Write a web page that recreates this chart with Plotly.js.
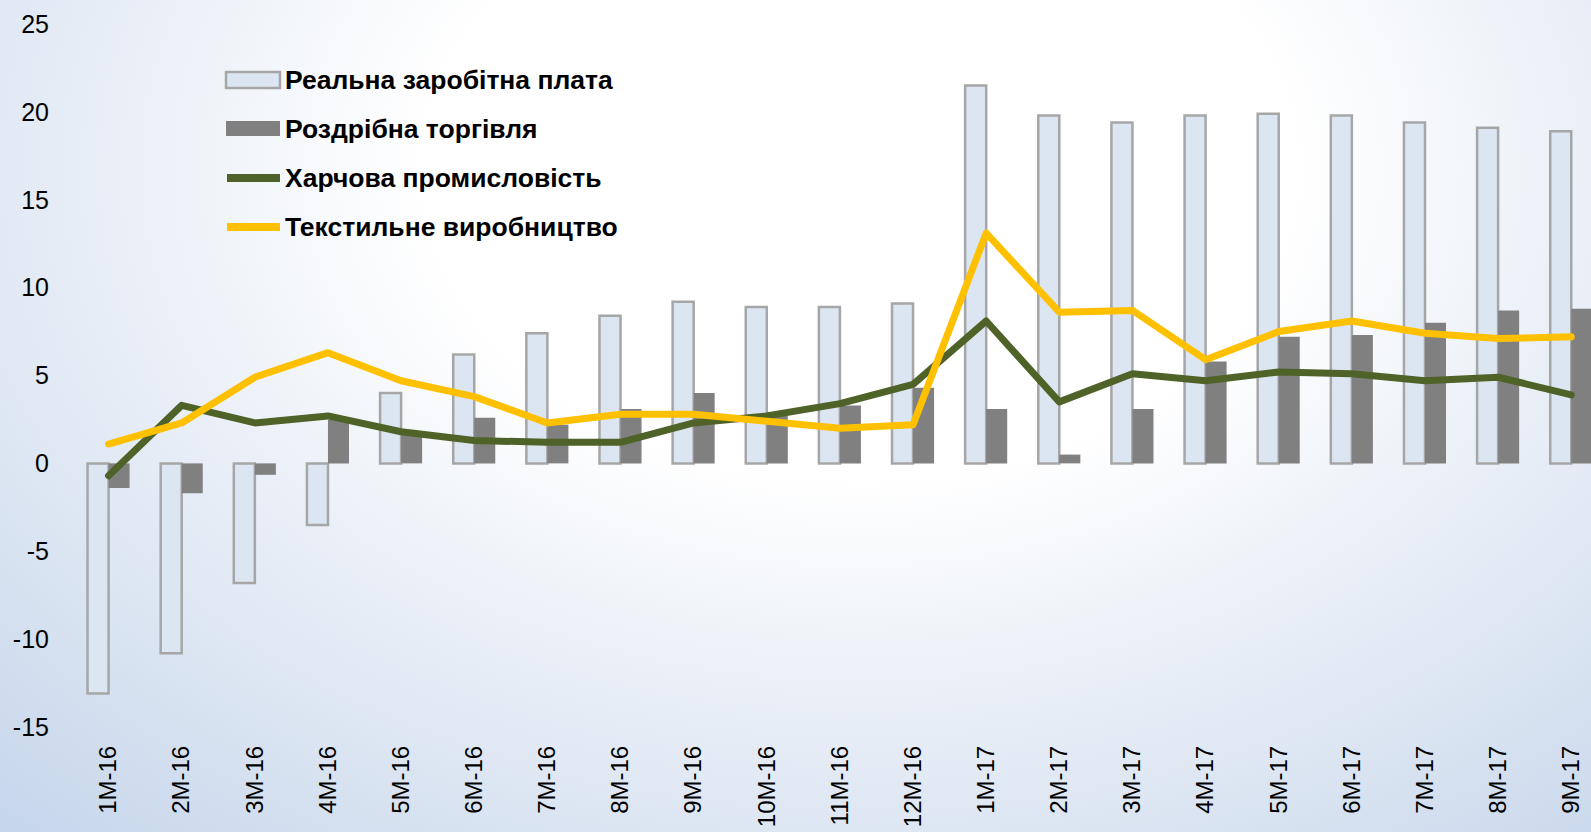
<!DOCTYPE html>
<html>
<head>
<meta charset="utf-8">
<script src="https://cdn.plot.ly/plotly-3.0.1.min.js"></script>
<style>
  html, body { margin: 0; padding: 0; }
  body {
    width: 1591px; height: 832px; overflow: hidden;
    background: radial-gradient(ellipse 900px 640px at 860px 170px, #ffffff 0%, #ffffff 48%, #e4ebf5 92%, #c6d6eb 140%);
  }
  #chart { width: 1591px; height: 832px; }
  .scatterlayer .js-line { stroke-linecap: round; stroke-linejoin: round; }
</style>
</head>
<body>
<div id="chart"></div>
<script>
// ---- data ----
const categories = ["1M-16","2M-16","3M-16","4M-16","5M-16","6M-16","7M-16","8M-16","9M-16","10M-16","11M-16","12M-16",
                    "1M-17","2M-17","3M-17","4M-17","5M-17","6M-17","7M-17","8M-17","9M-17"];
const realWages = [-13.1,-10.8,-6.8,-3.5,4.0,6.2,7.4,8.4,9.2,8.9,8.9,9.1,21.5,19.8,19.4,19.8,19.9,19.8,19.4,19.1,18.9];
const retailTrade = [-1.4,-1.7,-0.65,2.5,1.7,2.6,2.2,3.1,4.0,2.9,3.3,4.3,3.1,0.5,3.1,5.8,7.2,7.3,8.0,8.7,8.8];
const foodIndustry = [-0.7,3.3,2.3,2.7,1.8,1.3,1.2,1.2,2.3,2.7,3.4,4.5,8.1,3.5,5.1,4.7,5.2,5.1,4.7,4.9,3.9];
const textileProduction = [1.1,2.3,4.9,6.3,4.7,3.8,2.3,2.8,2.8,2.4,2.0,2.2,13.1,8.6,8.7,5.9,7.5,8.1,7.4,7.1,7.2];
const seriesNames = ["Реальна заробітна плата","Роздрібна торгівля","Харчова промисловість","Текстильне виробництво"];
const yTicks = [-15,-10,-5,0,5,10,15,20,25];

// ---- styles ----
const C_WAGE = "#DCE6F2", C_WAGE_LINE = "#A6A6A6", C_RETAIL = "#808080", C_FOOD = "#4F6228", C_TEXT = "#FFC000";
const W = 1591, H = 832, ML = 72, MR = 0, MT = 24, MB = 105;
const PW = W - ML - MR, PH = H - MT - MB;
const px2x = p => (p - ML) / PW;
const py2y = p => 1 - (p - MT) / PH;

const idx = categories.map((_, i) => i);

const traces = [
  { type: "bar", x: idx, y: realWages, name: seriesNames[0], showlegend: false, hoverinfo: "none",
    marker: { color: C_WAGE, line: { color: C_WAGE_LINE, width: 2.5 } } },
  { type: "bar", x: idx, y: retailTrade, name: seriesNames[1], showlegend: false, hoverinfo: "none",
    marker: { color: C_RETAIL, line: { width: 0 } } },
  { type: "scatter", mode: "lines", x: idx, y: foodIndustry, name: seriesNames[2], showlegend: false, hoverinfo: "none",
    line: { color: C_FOOD, width: 7 } },
  { type: "scatter", mode: "lines", x: idx, y: textileProduction, name: seriesNames[3], showlegend: false, hoverinfo: "none",
    line: { color: C_TEXT, width: 7 } }
];

// custom legend (wide swatches as in the original)
const legRows = [80, 129, 178, 227];
const shapes = [
  { type: "rect", xref: "paper", yref: "paper", x0: px2x(226), x1: px2x(280), y0: py2y(88), y1: py2y(72),
    fillcolor: C_WAGE, line: { color: C_WAGE_LINE, width: 2.5 } },
  { type: "rect", xref: "paper", yref: "paper", x0: px2x(226), x1: px2x(280), y0: py2y(136), y1: py2y(121),
    fillcolor: C_RETAIL, line: { width: 0 } },
  { type: "line", xref: "paper", yref: "paper", x0: px2x(227), x1: px2x(280), y0: py2y(legRows[2]), y1: py2y(legRows[2]),
    line: { color: C_FOOD, width: 8 } },
  { type: "line", xref: "paper", yref: "paper", x0: px2x(227), x1: px2x(280), y0: py2y(legRows[3]), y1: py2y(legRows[3]),
    line: { color: C_TEXT, width: 8 } }
];
const annotations = seriesNames.map((n, i) => ({
  xref: "paper", yref: "paper", x: px2x(283), y: py2y(legRows[i]), xanchor: "left", yanchor: "middle",
  text: "<b>" + n + "</b>", showarrow: false,
  font: { family: "Liberation Sans, Arial, sans-serif", size: 26.5, color: "#000000" }
}));

const layout = {
  width: W, height: H,
  margin: { l: ML, r: MR, t: MT, b: MB, pad: 0 },
  paper_bgcolor: "rgba(0,0,0,0)", plot_bgcolor: "rgba(0,0,0,0)",
  barmode: "group", bargap: 0.425, bargroupgap: 0,
  showlegend: false,
  font: { family: "Liberation Sans, Arial, sans-serif", color: "#000000" },
  xaxis: {
    range: [-0.5, 20.27], tickmode: "array", tickvals: idx, ticktext: categories,
    tickangle: -90, showgrid: false, zeroline: false, showline: false, ticks: "",
    tickfont: { size: 24, color: "#000000" }, fixedrange: true, automargin: false, ticklabelstandoff: 13
  },
  yaxis: {
    range: [-15, 25], tickmode: "array", tickvals: yTicks, ticktext: yTicks.map(String),
    showgrid: false, zeroline: false, showline: false, ticks: "",
    tickfont: { size: 25, color: "#000000" }, fixedrange: true, automargin: false, ticklabelstandoff: 22
  },
  shapes: shapes,
  annotations: annotations
};

Plotly.newPlot("chart", traces, layout, { staticPlot: true, displayModeBar: false });
</script>
</body>
</html>
